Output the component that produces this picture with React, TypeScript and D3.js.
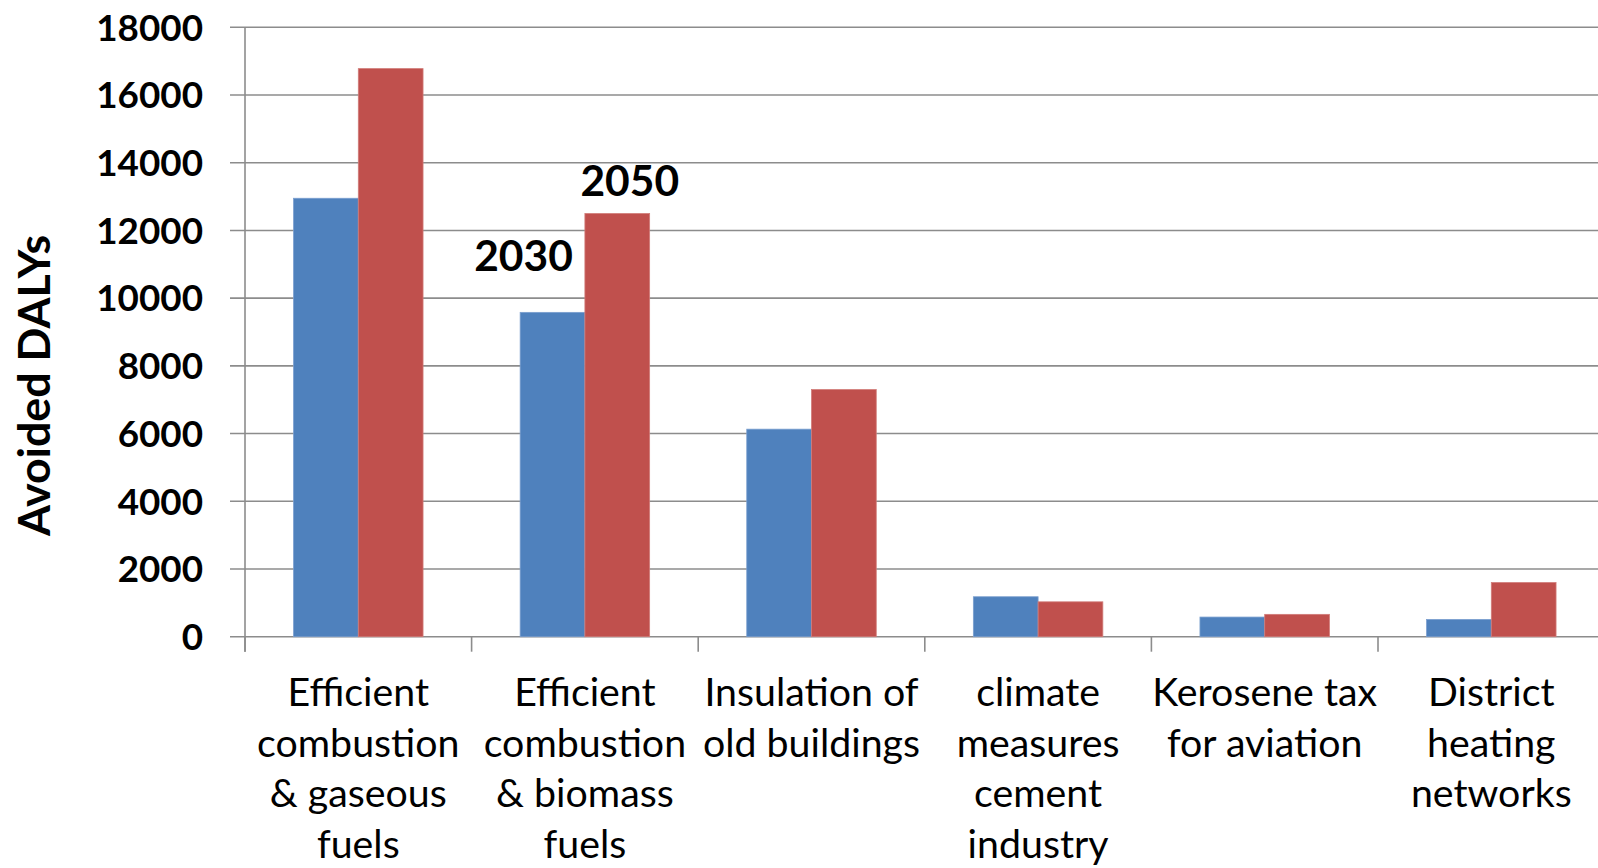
import React, { useEffect, useRef } from "react";
import * as d3 from "d3";

const categories = [
  ["Efficient", "combustion", "& gaseous", "fuels"],
  ["Efficient", "combustion", "& biomass", "fuels"],
  ["Insulation of", "old buildings"],
  ["climate", "measures", "cement", "industry"],
  ["Kerosene tax", "for aviation"],
  ["District", "heating", "networks"],
];
const series2030 = [12950, 9580, 6130, 1180, 580, 510];
const series2050 = [16780, 12500, 7300, 1030, 660, 1600];
const seriesNames = ["2030", "2050"];
const yTicks = [0, 2000, 4000, 6000, 8000, 10000, 12000, 14000, 16000, 18000];
const yTitle = "Avoided DALYs";

const W = 1598;
const H = 868;
const FONT = "Lato, 'Open Sans', sans-serif";

export default function App() {
  const ref = useRef<SVGSVGElement | null>(null);

  useEffect(() => {
    const svg = d3.select(ref.current);
    svg.selectAll("*").remove();

    const left = 245;
    const right = 245 + 6 * 226.6;
    const top = 27.3;
    const bottom = 636.7;

    const x = d3
      .scaleBand<number>()
      .domain(d3.range(categories.length))
      .range([left, right])
      .paddingInner(0)
      .paddingOuter(0);
    const y = d3.scaleLinear().domain([0, 18000]).range([bottom, top]);

    const bw = x.bandwidth() / 3.5;
    const gap = (x.bandwidth() - 2 * bw) / 2;

    const grid = "#8c8c8c";

    svg
      .append("g")
      .selectAll("line")
      .data(yTicks)
      .join("line")
      .attr("x1", left - 15)
      .attr("x2", right)
      .attr("y1", (d) => y(d))
      .attr("y2", (d) => y(d))
      .attr("stroke", grid)
      .attr("stroke-width", 1.6);

    svg
      .append("line")
      .attr("x1", left)
      .attr("x2", left)
      .attr("y1", top)
      .attr("y2", bottom + 15)
      .attr("stroke", grid)
      .attr("stroke-width", 1.6);

    svg
      .append("g")
      .selectAll("line")
      .data(d3.range(categories.length + 1))
      .join("line")
      .attr("x1", (i) => left + i * x.step())
      .attr("x2", (i) => left + i * x.step())
      .attr("y1", bottom)
      .attr("y2", bottom + 15)
      .attr("stroke", grid)
      .attr("stroke-width", 1.6);

    const colors = ["#4F81BD", "#C0504D"];
    const edges = ["#7a9fcf", "#d17c79"];
    [series2030, series2050].forEach((s, si) => {
      svg
        .append("g")
        .selectAll("rect")
        .data(s)
        .join("rect")
        .attr("x", (_, i) => (x(i) as number) + gap + si * bw)
        .attr("width", bw)
        .attr("y", (d) => y(d))
        .attr("height", (d) => bottom - y(d))
        .attr("fill", colors[si])
        .attr("stroke", edges[si])
        .attr("stroke-width", 0.8);
    });

    svg
      .append("g")
      .selectAll("text")
      .data(yTicks)
      .join("text")
      .attr("x", 203)
      .attr("y", (d) => y(d))
      .attr("dy", "0.36em")
      .attr("text-anchor", "end")
      .attr("font-family", FONT)
      .attr("font-weight", "bold")
      .attr("font-size", 36.8)
      .attr("fill", "#000")
      .text((d) => String(d));

    svg
      .append("text")
      .attr("transform", `translate(50, ${(236 + 535) / 2}) rotate(-90)`)
      .attr("text-anchor", "middle")
      .attr("font-family", FONT)
      .attr("font-weight", "bold")
      .attr("font-size", 44.7)
      .attr("fill", "#000")
      .text(yTitle);

    const cg = svg.append("g");
    categories.forEach((lines, i) => {
      const cx = (x(i) as number) + x.bandwidth() / 2;
      lines.forEach((ln, li) => {
        cg.append("text")
          .attr("x", cx)
          .attr("y", 706 + li * 50.7)
          .attr("text-anchor", "middle")
          .attr("font-family", FONT)
          .attr("font-size", 39.3)
          .attr("fill", "#000")
          .text(ln);
      });
    });

    const c2 = x(1) as number;
    svg
      .append("text")
      .attr("x", c2 + gap + bw * 0.5 - 29)
      .attr("y", y(series2030[1]) - 41)
      .attr("text-anchor", "middle")
      .attr("font-family", FONT)
      .attr("font-weight", "bold")
      .attr("font-size", 42.5)
      .attr("fill", "#000")
      .text(seriesNames[0]);
    svg
      .append("text")
      .attr("x", c2 + gap + bw * 1.5 + 12.5)
      .attr("y", y(series2050[1]) - 18)
      .attr("text-anchor", "middle")
      .attr("font-family", FONT)
      .attr("font-weight", "bold")
      .attr("font-size", 42.5)
      .attr("fill", "#000")
      .text(seriesNames[1]);
  }, []);

  return (
    <svg
      ref={ref}
      width={W}
      height={H}
      style={{ position: "absolute", left: 0, top: 0, background: "#fff" }}
    />
  );
}
